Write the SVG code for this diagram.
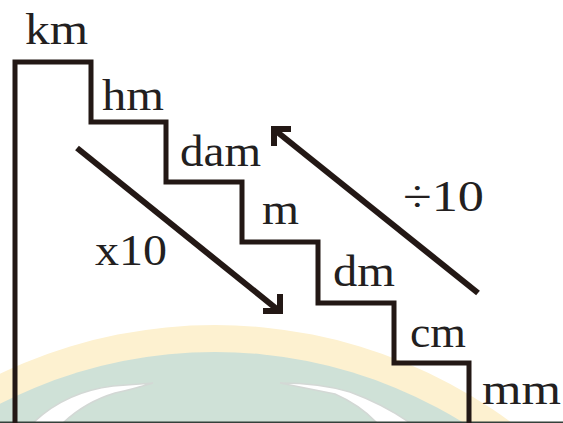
<svg xmlns="http://www.w3.org/2000/svg" width="563" height="423" viewBox="0 0 563 423">
  <style>
    .lbl { font-family: "Liberation Serif", "Times New Roman", serif; font-size: 44px; fill: #231f1f; }
    .ln { fill: none; stroke: #231815; stroke-width: 5; stroke-linejoin: miter; stroke-linecap: butt; }
    .arr { fill: none; stroke: #231815; stroke-width: 6; stroke-linecap: butt; stroke-linejoin: miter; }
    .swoosh { fill: #ffffff; stroke: #d3d8d5; stroke-width: 1.5; }
  </style>
  <defs>
    <clipPath id="clip"><rect x="0" y="0" width="563" height="422"/></clipPath>
  </defs>
  <rect width="563" height="423" fill="#ffffff"/>
  <g id="watermark" clip-path="url(#clip)">
    <circle cx="215" cy="824" r="499" fill="#fdf1d0"/>
    <circle cx="215" cy="824" r="472" fill="#cfe1d7"/>
    <path class="swoosh" d="M33,423 Q65,392 113,386 L153,383 Q130,390 115,393 Q85,402 63,423 Z"/>
    <path class="swoosh" d="M280,383 Q320,383 350,392 Q385,405 410,423 L377,423 Q360,405 335,394 Q305,388 280,383 Z"/>
  </g>
  <line x1="0" y1="422.3" x2="563" y2="422.3" stroke="#34403a" stroke-width="1.5"/>
  <g id="stairs">
    <path class="ln" d="M15,423 V62 H91 V122 H166 V182 H242 V242 H318 V303 H394 V363 H469 V423"/>
  </g>
  <g id="labels">
    <g id="km"><text class="lbl" x="25" y="44" textLength="63" lengthAdjust="spacingAndGlyphs">km</text></g>
    <g id="hm"><text class="lbl" x="102" y="110" textLength="62" lengthAdjust="spacingAndGlyphs">hm</text></g>
    <g id="dam"><text class="lbl" x="180" y="166" textLength="81" lengthAdjust="spacingAndGlyphs">dam</text></g>
    <g id="m"><text class="lbl" x="262" y="224" textLength="37" lengthAdjust="spacingAndGlyphs">m</text></g>
    <g id="dm"><text class="lbl" x="333" y="286" textLength="62" lengthAdjust="spacingAndGlyphs">dm</text></g>
    <g id="cm"><text class="lbl" x="410" y="347" textLength="56" lengthAdjust="spacingAndGlyphs">cm</text></g>
    <g id="mm"><text class="lbl" x="482" y="404" textLength="79" lengthAdjust="spacingAndGlyphs">mm</text></g>
  </g>
  <g id="connectors">
    <g id="x10-arrow">
      <line class="arr" x1="77" y1="148" x2="278" y2="310"/>
      <polyline class="arr" points="263,311 280,311 280,294"/>
      <text class="lbl" x="95" y="265" textLength="72" lengthAdjust="spacingAndGlyphs">x10</text>
    </g>
    <g id="div10-arrow">
      <line class="arr" x1="276" y1="131" x2="478" y2="293"/>
      <polyline class="arr" points="291,129 274,129 274,146"/>
      <text class="lbl" x="403" y="211" textLength="81" lengthAdjust="spacingAndGlyphs">÷10</text>
    </g>
  </g>
</svg>
